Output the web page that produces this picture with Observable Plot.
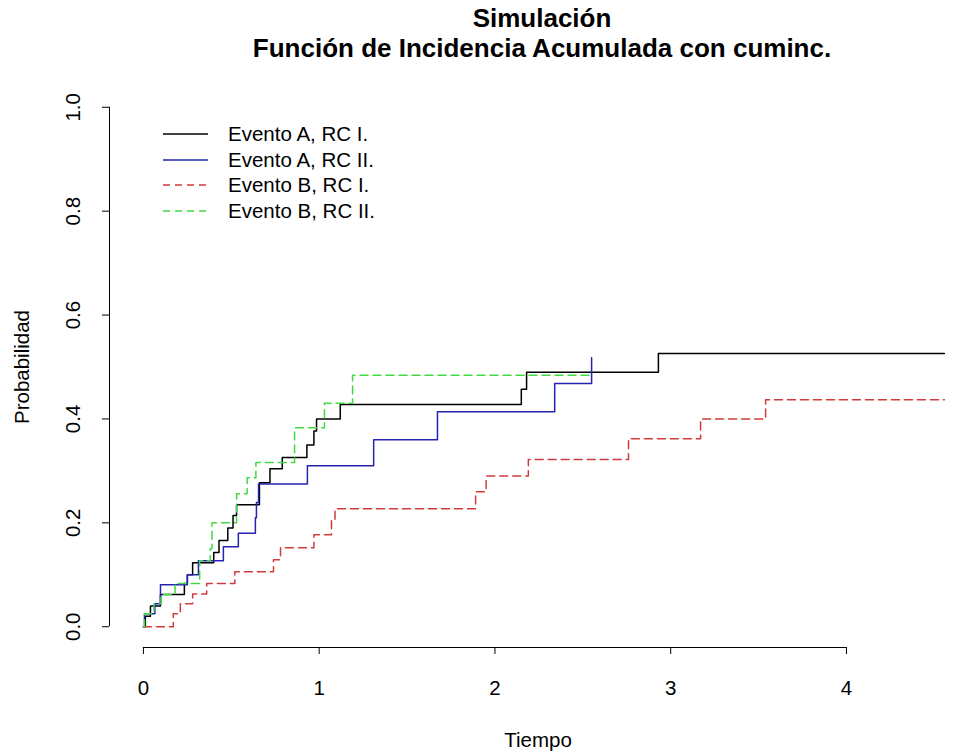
<!DOCTYPE html>
<html>
<head>
<meta charset="utf-8">
<script src="https://cdn.jsdelivr.net/npm/d3@7"></script>
<script src="https://cdn.jsdelivr.net/npm/@observablehq/plot@0.6"></script>
<style>
  body { margin: 0; background: #fff; font-family: "Liberation Sans", Arial, sans-serif; color: #000; }
  #wrap { position: relative; width: 966px; height: 753px; overflow: hidden; background: #fff; }
  #title { position: relative; height: 66px; }
  #title div { position: absolute; left: 109px; width: 866px; text-align: center; font-weight: bold; font-size: 26px; line-height: 30px; }
  #legend { position: absolute; left: 160px; top: 121px; font-size: 20.5px; }
  .row { display: flex; align-items: center; height: 25.7px; }
  .row svg { width: 50px; height: 10px; margin-right: 18px; }
</style>
</head>
<body>
<div id="wrap">
  <div id="title"><div style="top:3px">Simulación</div><div style="top:33px">Función de Incidencia Acumulada con cuminc.</div></div>
  <div id="chart"></div>
  <div id="legend"></div>
</div>
<script>
// ---- data (time, cumulative incidence) ----
const timeA1 = [0, 0.011, 0.04, 0.097, 0.233, 0.25, 0.28, 0.40, 0.43, 0.48, 0.51, 0.53, 0.66, 0.72, 0.79, 0.93, 0.97, 0.985, 1.12, 2.15, 2.18, 2.93, 4.557];
const cifA1  = [0, 0.02, 0.04, 0.062, 0.083, 0.10, 0.123, 0.143, 0.166, 0.19, 0.214, 0.235, 0.277, 0.304, 0.326, 0.35, 0.377, 0.40, 0.428, 0.457, 0.49, 0.526, 0.526];

const timeA2 = [0, 0.006, 0.065, 0.097, 0.25, 0.313, 0.455, 0.54, 0.637, 0.643, 0.655, 0.933, 1.31, 1.673, 2.34, 2.55];
const cifA2  = [0, 0.025, 0.044, 0.081, 0.10, 0.127, 0.154, 0.18, 0.21, 0.239, 0.275, 0.31, 0.36, 0.414, 0.468, 0.518];

const timeB1 = [0, 0.17, 0.21, 0.28, 0.36, 0.52, 0.74, 0.78, 0.97, 1.07, 1.09, 1.89, 1.95, 2.19, 2.76, 3.17, 3.54, 4.557];
const cifB1  = [0, 0.025, 0.044, 0.063, 0.083, 0.106, 0.129, 0.152, 0.177, 0.204, 0.227, 0.26, 0.29, 0.322, 0.362, 0.40, 0.437, 0.437];

const timeB2 = [0, 0.006, 0.06, 0.10, 0.18, 0.32, 0.38, 0.39, 0.53, 0.59, 0.64, 0.86, 1.03, 1.19, 2.543];
const cifB2  = [0, 0.025, 0.044, 0.062, 0.083, 0.127, 0.15, 0.20, 0.256, 0.287, 0.316, 0.383, 0.43, 0.484, 0.484];

const seriesNames  = ["Evento A, RC I.", "Evento A, RC II.", "Evento B, RC I.", "Evento B, RC II."];
const seriesColors = ["#000000", "#2424b0", "#d03c3c", "#42d942"];
const seriesDashes = [null, null, "8,5", "8,5"];

const xTicks = [0, 1, 2, 3, 4];
const yTicks = [0, 0.2, 0.4, 0.6, 0.8, 1.0];
const xLabel = "Tiempo";
const yLabel = "Probabilidad";

// ---- build ----
const seriesTimes = [timeA1, timeA2, timeB1, timeB2];
const seriesCifs  = [cifA1, cifA2, cifB1, cifB2];
const tables = seriesTimes.map((ts, i) => ts.map((t, j) => ({t, p: seriesCifs[i][j], s: seriesNames[i]})));

const xDomain = [-0.193, 4.683];
const yDomain = [-0.04, 1.04];

const chart = Plot.plot({
  width: 966,
  height: 687,
  marginLeft: 109,
  marginRight: 0,
  marginTop: 20,
  marginBottom: 106,
  style: {fontFamily: '"Liberation Sans", Arial, sans-serif', fontSize: "20px", background: "#fff", color: "#000", overflow: "visible"},
  x: {domain: xDomain},
  y: {domain: yDomain},
  marks: [
    Plot.ruleY([yDomain[0]], {x1: xTicks[0], x2: xTicks[xTicks.length - 1], stroke: "#000", strokeWidth: 1}),
    Plot.ruleX([xDomain[0]], {y1: yTicks[0], y2: yTicks[yTicks.length - 1], stroke: "#000", strokeWidth: 1}),
    Plot.axisX({ticks: xTicks, tickSize: 7, tickPadding: 26, fontSize: 20.5, label: null, tickFormat: d3.format("d")}),
    Plot.axisY({ticks: yTicks, tickSize: 7, tickPadding: 23, fontSize: 20.5, label: null, tickRotate: -90, tickFormat: d3.format(".1f")}),
    Plot.text([xLabel], {frameAnchor: "bottom", dy: 93, lineAnchor: "middle", textAnchor: "middle", fontSize: 20.5, text: d => d}),
    Plot.text([yLabel], {frameAnchor: "left", dx: -87, rotate: -90, lineAnchor: "middle", textAnchor: "middle", fontSize: 20.5, text: d => d}),
    ...tables.map((tbl, i) => Plot.line(tbl, {
      x: "t", y: "p", curve: "step-after",
      stroke: seriesColors[i], strokeWidth: 1.5,
      strokeDasharray: seriesDashes[i] || undefined
    }))
  ]
});
document.getElementById("chart").appendChild(chart);

// ---- legend ----
const legend = d3.select("#legend");
seriesNames.forEach((name, i) => {
  const row = legend.append("div").attr("class", "row");
  const svg = row.append("svg").attr("viewBox", "0 0 50 10");
  svg.append("line").attr("x1", 3).attr("x2", 48).attr("y1", 5).attr("y2", 5)
    .attr("stroke", seriesColors[i]).attr("stroke-width", 1.5)
    .attr("stroke-dasharray", seriesDashes[i] ? "7,5" : null);
  row.append("span").text(name);
});
</script>
</body>
</html>
